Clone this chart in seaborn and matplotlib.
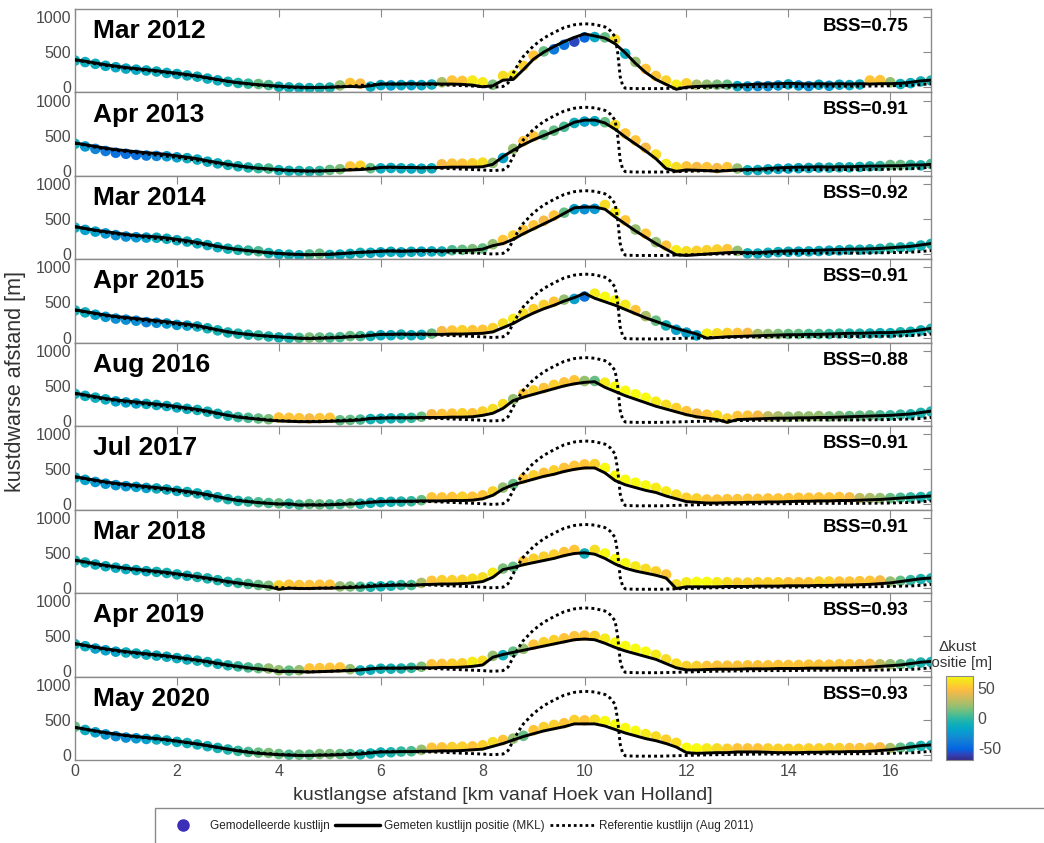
import numpy as np
import pandas as pd
import matplotlib
matplotlib.use("Agg")
import matplotlib.pyplot as plt
import seaborn as sns
from matplotlib.colors import LinearSegmentedColormap, Normalize
from matplotlib.cm import ScalarMappable
from matplotlib.lines import Line2D
from matplotlib.patches import Rectangle

# ---------------- data ----------------
transect_km = np.linspace(0.0, 16.8, 85)   # alongshore positions of transects (0.2 km)

panel_titles = ["Mar 2012", "Apr 2013", "Mar 2014", "Apr 2015", "Aug 2016",
                "Jul 2017", "Mar 2018", "Apr 2019", "May 2020"]
bss_values = [0.75, 0.91, 0.92, 0.91, 0.88, 0.91, 0.91, 0.93, 0.93]

ref_km = [0, 0.5, 1, 1.5, 2, 2.5, 3, 3.5, 4, 4.5, 5, 5.5, 6, 6.5, 7, 7.5, 8, 8.2, 8.4,
          8.5, 8.6, 8.7, 8.8, 9.0, 9.2, 9.4, 9.6, 9.8, 10.0, 10.2, 10.4, 10.5, 10.6,
          10.65, 10.7, 10.75, 10.8, 11.0, 11.5, 12.0, 12.5, 13, 13.5, 14, 14.5, 15,
          15.5, 16, 16.5, 16.8]
ref_m = [390, 320, 270, 230, 190, 140, 80, 35, 5, -10, 0, 20, 45, 45, 40, 25, 10, 0, 10,
         60, 200, 330, 440, 590, 700, 780, 850, 890, 905, 895, 860, 810, 720,
         500, 150, 20, -15, -20, -20, -10, 0, 5, 10, 10, 15, 15,
         15, 20, 30, 50]

meas_2012 = [390,370,345,320,300,280,265,250,235,215, 200,180,160,135,110,85,65,50,35,25,
             15,5,0,-5,-5,0,5,10,5,20, 45,45,45,50,45,50,45,45,
             40,30,5,20,100,110,250,400,500,580, 650,710,760,730,700,620,490,340,210,110,
             40,-30,0,10,15,20,25,30,35,45, 45,50,55,50,45,50,45,50,45,50,
             45,50,50,55,70,90,100]
delta_2012 = [-10,-12,-12,-15,-15,-15,-15,-12,-12,-12, -12,-12,-10,-12,-12,-8,-5,0,10,5,
              -8,-8,-10,-8,-5,-5,20,50,45,-12, -15,-20,-15,-20,-15,-12,25,50,
              50,65,65,15,60,65,55,50,10,-40, -45,-60,-50,-15,10,60,-12,20,50,50,
              55,65,55,25,20,15,10,-15,-25,-30, -30,-25,-15,-25,-30,-15,-25,-15,-15,-12,
              50,50,20,-10,-12,-8,-5]

meas_2013 = [395,370,345,320,300,285,270,255,245,230, 210,190,170,140,115,90,70,50,35,25,
             15,5,0,-5,-5,0,5,10,15,25, 45,50,45,45,40,45,45,50,
             50,50,55,90,200,290,370,440,500,560, 620,690,720,720,680,590,480,380,280,170,
             30,-10,10,5,0,-10,0,10,15,20, 30,40,45,50,50,55,50,55,55,60,
             65,65,70,70,80,80,90]
delta_2013 = [-12,-25,-35,-40,-45,-45,-45,-40,-35,-25, -20,-12,-12,-12,-12,-8,-8,-5,0,5,
              -8,-8,-5,-5,0,10,15,50,55,10, -12,-12,-12,-15,-12,-12,45,50,
              50,55,60,20,-20,20,50,50,10,10, 5,-10,-20,-15,10,60,50,50,45,60,
              65,60,50,45,50,45,50,20,-10,-12, -12,-15,-15,-15,-12,-12,-8,-8,-8,-8,
              -5,0,10,10,0,-5,5]

meas_2014 = [390,365,340,320,300,280,265,255,245,230, 210,190,165,140,110,85,65,50,35,20,
             10,0,-5,-10,-5,-5,5,15,25,30, 40,45,40,45,50,50,45,50,
             50,55,70,120,150,210,290,360,430,500, 580,660,670,670,640,530,430,330,240,150,
             70,-10,-20,-10,0,10,20,25,20,20, 30,40,45,50,50,55,60,65,70,70,
             75,80,90,100,110,130,150]
delta_2014 = [-12,-20,-20,-25,-30,-30,-25,-20,-12,-12, -12,-12,-12,-12,-12,-8,-5,0,5,-5,
              -12,-8,-12,5,10,-8,-12,-12,-8,-12, -15,-12,-15,-12,-15,-12,-8,5,
              10,15,10,20,50,55,50,50,45,50, 10,-20,-30,-25,60,65,50,20,50,20,
              50,65,60,55,55,55,50,20,-10,-12, -12,-12,-12,-15,-12,-12,-12,-12,-8,-8,
              -8,-5,0,-5,-8,-8,-5]

meas_2015 = [395,370,345,320,300,285,270,255,240,225, 205,190,170,140,110,80,60,45,30,20,
             10,0,-10,-15,-10,-5,0,10,15,30, 45,45,50,45,50,45,45,50,
             50,55,60,80,140,200,280,350,410,460, 520,570,630,560,510,460,400,340,280,230,
             180,130,90,50,-10,0,10,15,20,25, 30,35,40,40,45,45,50,55,60,60,
             65,70,70,80,90,110,130]
delta_2015 = [-8,-12,-20,-25,-30,-30,-30,-35,-30,-25, -25,-20,-12,-8,-8,-8,-5,-5,0,-5,
              -8,-5,5,15,10,5,5,10,5,-8, -12,-12,-8,-12,-12,10,45,50,
              55,50,50,55,60,65,60,55,55,50, 20,-20,-45,65,70,70,65,50,25,10,
              -8,-20,-20,-20,65,60,55,50,45,25, 20,15,10,10,5,5,0,0,-5,-5,
              -8,-8,-8,-5,-8,-8,-5]

meas_2016 = [395,370,345,320,300,285,270,255,240,225, 205,185,165,140,110,80,55,40,25,10,
             0,-5,-10,-10,-10,-5,0,5,15,35, 40,45,45,45,50,50,50,55,
             55,60,80,110,180,290,340,380,420,460, 500,530,550,560,480,420,360,310,260,210,
             170,130,90,60,40,20,-20,20,25,30, 35,40,40,45,45,50,50,55,60,65,
             70,75,80,90,100,120,140]
delta_2016 = [-8,-12,-12,-12,-20,-20,-20,-12,-12,-12, -12,-12,-8,-8,-8,-5,0,5,10,15,
              50,50,50,45,50,50,10,10,5,-8, -8,-8,-5,0,10,45,50,50,
              55,50,55,60,60,20,50,55,50,55, 50,50,20,10,65,70,70,70,70,65,
              60,55,50,45,50,60,55,50,50,45, 30,25,20,20,20,20,15,15,10,10,
              10,5,0,0,-5,-5,-5]

meas_2017 = [395,370,345,320,300,285,270,255,240,225, 205,185,165,140,110,80,55,40,25,15,
             5,10,-10,-5,-10,-5,0,5,15,30, 40,45,45,45,50,50,50,55,
             55,60,80,130,220,280,320,360,400,430, 470,500,520,520,450,340,280,240,200,170,
             120,80,40,30,20,20,25,25,30,30, 35,35,40,45,45,50,50,55,55,60,
             65,70,80,90,100,110,120]
delta_2017 = [-12,-20,-25,-25,-25,-25,-20,-20,-12,-12, -12,-8,-8,-8,-8,-5,-5,0,5,5,
              10,0,5,10,10,5,5,10,-5,-8, -8,-8,-5,0,10,50,50,50,
              55,50,50,55,20,10,50,55,50,55, 50,50,50,55,70,70,70,70,70,65,
              65,60,55,55,50,50,50,50,50,50, 50,50,50,50,50,50,50,50,45,30,
              25,20,10,5,0,-5,-5]

meas_2018 = [395,370,345,320,300,280,265,250,235,220, 200,180,160,140,115,90,70,50,30,15,
             -20,-5,-10,-10,-5,-5,0,5,10,20, 30,35,40,35,45,50,55,55,
             60,70,90,150,260,290,330,360,390,420, 460,490,500,480,420,340,280,240,210,180,
             140,-10,15,15,15,15,20,20,20,25, 25,25,30,30,30,35,35,40,40,45,
             50,60,70,90,110,130,140]
delta_2018 = [-5,-8,-12,-12,-12,-12,-12,-12,-8,-8, -8,-8,-5,-5,-5,-5,0,5,10,15,
              55,50,50,50,50,50,20,15,5,-5, -8,-5,0,5,25,50,55,55,
              55,60,60,65,15,10,50,55,55,55, 50,50,-10,60,70,70,70,65,60,55,
              50,60,65,70,70,65,60,55,55,55, 55,55,50,50,50,55,55,50,50,50,
              50,45,20,10,0,-5,-5]

meas_2019 = [395,370,345,320,300,280,265,250,235,220, 200,180,160,140,115,90,70,50,35,20,
             -5,0,-5,-10,-5,0,5,10,20,35, 45,45,45,50,50,50,55,55,
             60,70,90,200,240,270,300,330,360,390, 420,450,460,450,400,340,290,250,210,170,
             110,50,20,20,25,30,30,30,35,35, 35,40,40,40,45,45,45,50,50,55,
             60,70,80,90,110,130,140]
delta_2019 = [-8,-12,-20,-20,-20,-12,-12,-12,-12,-12, -12,-12,-8,-8,-8,-5,0,5,10,20,
              20,10,20,50,50,50,50,20,-8,-12, -8,-8,-5,0,15,50,50,55,
              55,65,60,20,-10,10,20,50,55,55, 50,50,50,55,65,70,70,70,70,65,
              60,60,55,55,50,50,50,50,50,50, 50,50,50,50,50,50,50,50,50,45,
              45,30,20,10,0,-5,-8]

meas_2020 = [390,365,340,315,295,275,260,245,230,215, 195,175,155,130,105,80,55,35,20,10,
             0,-5,-10,-10,-5,-5,0,5,10,25, 40,40,45,45,50,50,55,55,
             60,70,80,120,160,210,260,300,340,370, 400,440,440,440,410,360,310,270,230,200,
             160,110,30,20,25,30,30,40,40,40, 35,30,30,30,35,35,40,40,45,45,
             50,60,70,90,110,130,140]
delta_2020 = [10,-12,-20,-25,-30,-30,-25,-20,-12,-12, -12,-8,-8,-8,-8,-5,0,5,10,15,
              10,5,10,10,15,15,10,5,-5,-8, -8,-5,0,5,20,50,50,55,
              55,50,55,60,50,20,10,50,55,55, 50,55,50,60,70,70,70,70,65,60,
              55,60,70,70,65,60,55,50,50,50, 55,55,55,55,55,55,55,55,50,50,
              50,45,25,10,0,-5,-8]

measured = [meas_2012, meas_2013, meas_2014, meas_2015, meas_2016,
            meas_2017, meas_2018, meas_2019, meas_2020]
deltas = [delta_2012, delta_2013, delta_2014, delta_2015, delta_2016,
          delta_2017, delta_2018, delta_2019, delta_2020]
for m, d in zip(measured, deltas):
    assert len(m) == 85 and len(d) == 85, (len(m), len(d))

# ---------------- style ----------------
sns.set_theme(style="white")
plt.rcParams["font.family"] = ["Liberation Sans", "DejaVu Sans"]
plt.rcParams["axes.unicode_minus"] = False

parula_anchors = [
    (0.2081, 0.1663, 0.5292), (0.1959, 0.2645, 0.7279), (0.0117, 0.3875, 0.8820),
    (0.0498, 0.4586, 0.8641), (0.0793, 0.5200, 0.8312), (0.0343, 0.5966, 0.8199),
    (0.0228, 0.6535, 0.7768), (0.0843, 0.6928, 0.7062), (0.2178, 0.7250, 0.6193),
    (0.3953, 0.7459, 0.5244), (0.5709, 0.7485, 0.4494), (0.7184, 0.7411, 0.3905),
    (0.8507, 0.7299, 0.3360), (0.9739, 0.7314, 0.2666), (0.9990, 0.7653, 0.2164),
    (0.9880, 0.8066, 0.1794), (0.9589, 0.8949, 0.1132), (0.9763, 0.9831, 0.0538)]
anchor_pos = [0, 4, 8, 12, 16, 20, 24, 28, 32, 36, 40, 44, 48, 52, 54, 56, 60, 63]
parula = LinearSegmentedColormap.from_list(
    "parula", [(p / 63.0, c) for p, c in zip(anchor_pos, parula_anchors)])
norm = Normalize(vmin=-70, vmax=70)

spine_col = "#8a8a8a"
label_col = "#4a4a4a"

W, H = 1044, 843
fig = plt.figure(figsize=(W / 100, H / 100), dpi=100)
fig.patch.set_facecolor("white")

left_px, right_px, top_px, bottom_px = 75, 931, 9, 760
h_px = (bottom_px - top_px) / 9.0

for k in range(9):
    y0 = 1 - (top_px + h_px * (k + 1)) / H
    ax = fig.add_axes([left_px / W, y0, (right_px - left_px) / W, h_px / H])
    ax.set_facecolor("white")
    model = np.array(measured[k]) + np.array(deltas[k])
    df = pd.DataFrame({"km": transect_km, "meas": measured[k],
                       "model": model, "delta": deltas[k]})
    sns.scatterplot(data=df, x="km", y="model", hue="delta", palette=parula,
                    hue_norm=norm, s=58, linewidth=0, legend=False, ax=ax, zorder=2)
    sns.lineplot(data=df, x="km", y="meas", color="black", linewidth=2.1,
                 estimator=None, sort=False, ax=ax, zorder=3)
    sns.lineplot(x=ref_km, y=ref_m, color="black", linewidth=2.1,
                 linestyle=(0, (1, 1.1)), estimator=None, sort=False, ax=ax, zorder=4)
    ax.set_xlim(0, 16.8)
    ax.set_ylim(-75, 1115)
    ax.set_yticks([0, 500, 1000])
    ax.set_xticks(np.arange(0, 17, 2))
    ax.set_xlabel("")
    ax.set_ylabel("")
    ax.tick_params(direction="in", top=True, right=True, length=6, width=0.8,
                   color=spine_col, labelcolor=label_col, labelsize=11.5, pad=3,
                   labelbottom=(k == 8))
    for sp in ax.spines.values():
        sp.set_color(spine_col)
        sp.set_linewidth(1.0)
        sp.set_visible(True)
    ax.text(0.021, 0.735, panel_titles[k], transform=ax.transAxes, fontsize=19,
            fontweight="bold", ha="left", va="center", color="black")
    ax.text(0.974, 0.79, f"BSS={bss_values[k]:.2f}", transform=ax.transAxes,
            fontsize=13.5, fontweight="bold", ha="right", va="center", color="black")

fig.text(503 / W, 1 - 796 / H, "kustlangse afstand [km vanaf Hoek van Holland]",
         ha="center", va="center", fontsize=14, color="#333333")
fig.text(16 / W, 1 - 382 / H, "kustdwarse afstand [m]", rotation=90,
         ha="center", va="center", fontsize=15.5, color="#333333")

# colorbar
cax = fig.add_axes([946 / W, 1 - 760 / H, 27 / W, 84 / H])
cb = fig.colorbar(ScalarMappable(norm=norm, cmap=parula), cax=cax, ticks=[-50, 0, 50])
cb.outline.set_edgecolor(spine_col)
cb.outline.set_linewidth(0.8)
cax.tick_params(direction="in", length=3, color=spine_col, labelcolor=label_col,
                labelsize=11.5)
fig.text(958 / W, 1 - 655 / H, "\u0394kust\npositie [m]", ha="center", va="center",
         fontsize=11, color="#333333", linespacing=1.2, zorder=-1)

# legend
handles = [Line2D([], [], marker="o", linestyle="none", markersize=8,
                  color=(0.23, 0.18, 0.72)),
           Line2D([], [], color="black", linewidth=2.5),
           Line2D([], [], color="black", linewidth=2.0, linestyle=(0, (1, 1.1)))]
labels = ["Gemodelleerde kustlijn", "Gemeten kustlijn positie (MKL)",
          "Referentie kustlijn (Aug 2011)"]
fig.legend(handles, labels, loc="center left", bbox_to_anchor=(156 / W, 1 - 826 / H),
           ncol=3, frameon=False, fontsize=8.5, handlelength=3.8,
           columnspacing=0.4, handletextpad=0.4, borderaxespad=0)
fig.add_artist(Rectangle((155 / W, -0.05), 1.0, (H - 808) / H + 0.05,
                         transform=fig.transFigure, fill=False,
                         edgecolor=spine_col, linewidth=1.0))

fig.savefig("out.png", dpi=100, facecolor="white")
